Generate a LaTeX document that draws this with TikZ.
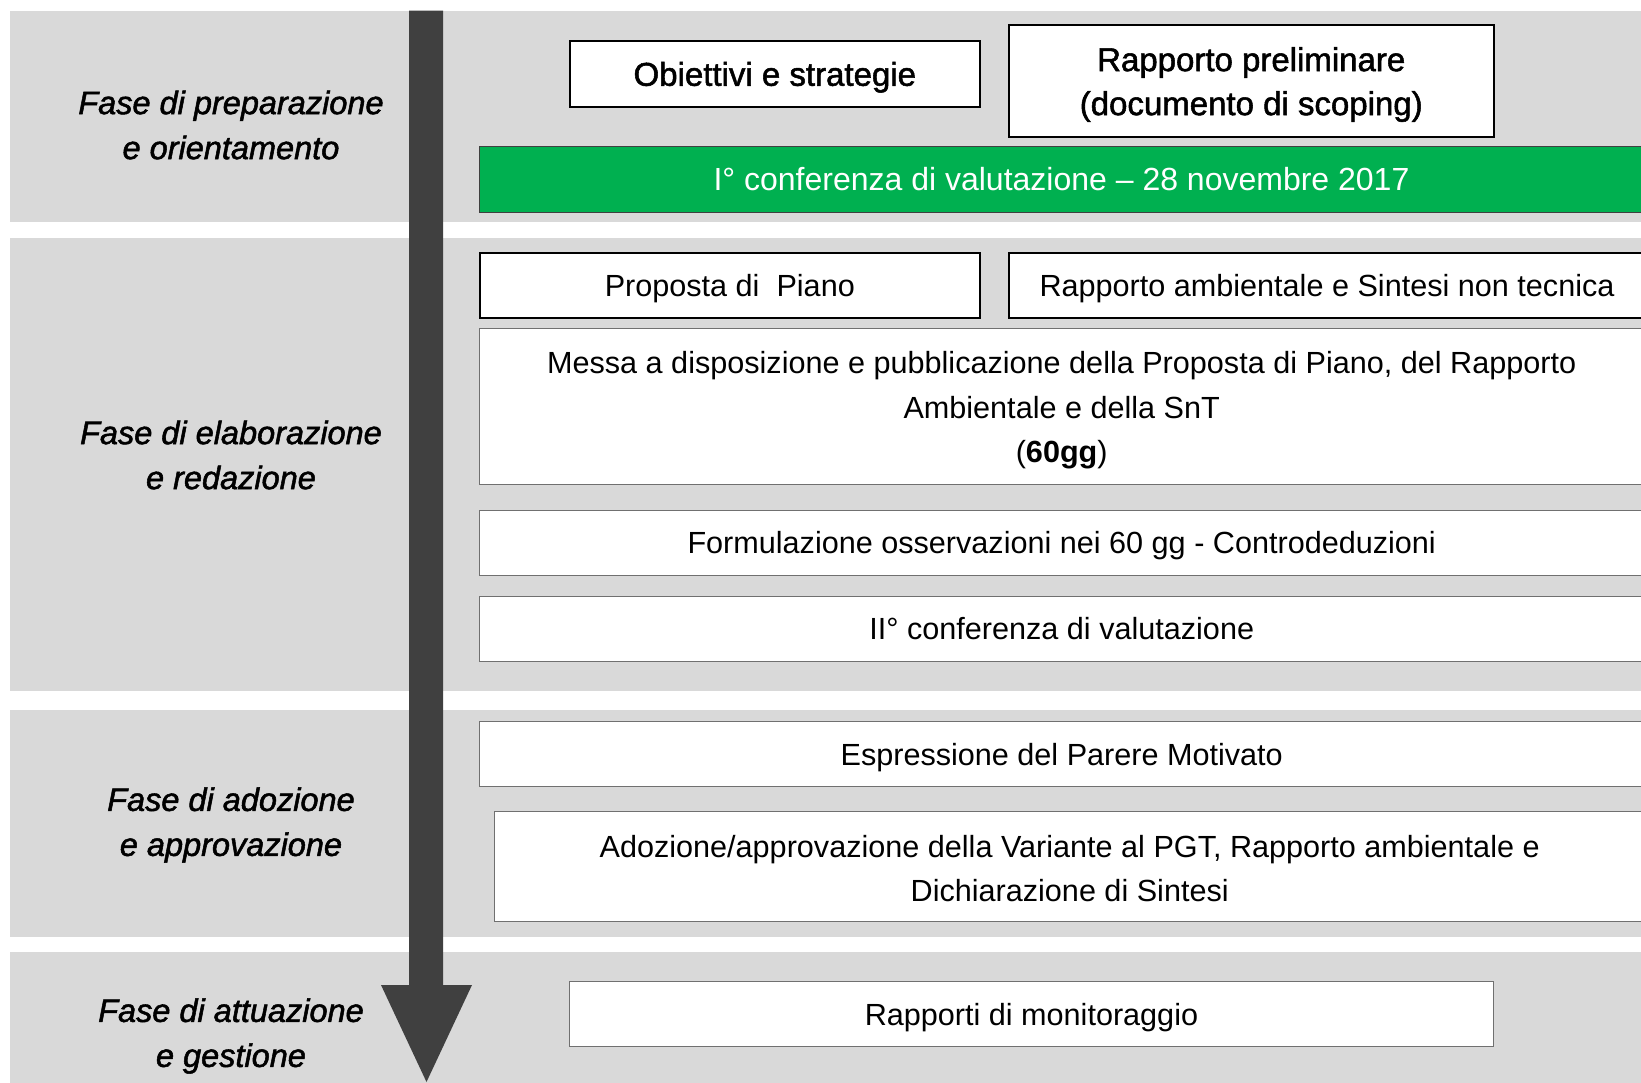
\documentclass[tikz,border=0pt]{standalone}
\usepackage{fontspec}
\setmainfont{Liberation Sans}
\newfontfamily\heavyfont[FakeBold=1.6]{Liberation Sans}
\definecolor{bandgray}{HTML}{D9D9D9}
\definecolor{arrowgray}{HTML}{404040}
\definecolor{confgreen}{HTML}{00B050}
\definecolor{boxgray}{HTML}{707070}
\begin{document}
\begin{tikzpicture}[x=1pt,y=-1pt,
  band/.style={fill=bandgray,draw=none},
  struts/.style={execute at begin node={\rule{0pt}{0.92em}},execute at end node={\rule[-0.2em]{0pt}{0pt}}},
  blackbox/.style={struts,draw=black,line width=2pt,fill=white,inner sep=0pt,align=center,anchor=north west,font=\heavyfont\fontsize{33}{44}\selectfont},
  graybox/.style={struts,draw=boxgray,line width=1.4pt,fill=white,inner sep=0pt,align=center,anchor=north west,font=\fontsize{30.6}{44.5}\selectfont},
  greenbox/.style={struts,draw=black!75,line width=1pt,fill=confgreen,text=white,inner sep=0pt,align=center,anchor=north west,font=\fontsize{32}{44}\selectfont},
  boxtext/.style={struts,inner sep=0pt,align=center,font=\fontsize{30.6}{44.5}\selectfont},
  phase/.style={align=center,inner sep=0pt,font=\heavyfont\itshape\fontsize{32.5}{45}\selectfont},
]
\fill[white] (0,0) rectangle (1641,1082);
\useasboundingbox (0,0) rectangle (1641,1082);

% bands
\fill[band] (10,10.5) rectangle (1645,222);
\fill[band] (10,237.5) rectangle (1645,690.8);
\fill[band] (10,710) rectangle (1645,936.7);
\fill[band] (10,951.7) rectangle (1645,1085);

% timeline arrow
\fill[arrowgray] (409,10.5) -- (443,10.5) -- (443,985) -- (472,985) -- (426.5,1082) -- (381,985) -- (409,985) -- cycle;

% phase labels
\node[phase] (p1) at (231,125) {Fase di preparazione\\e orientamento};
\node[phase] (p2) at (231,455) {Fase di elaborazione\\e redazione};
\node[phase] (p3) at (231,825) {Fase di adozione\\e approvazione};
\node[phase] (p4) at (231,1036) {Fase di attuazione\\e gestione};

% phase 1
\node[blackbox,minimum width=409.6pt,minimum height=66pt] (obi) at (569,40) {Obiettivi e strategie};
\node[blackbox,minimum width=484.5pt,minimum height=111.5pt] (rprel) at (1008,24) {};
\node[boxtext,font=\heavyfont\fontsize{33}{44}\selectfont] (rpreltxt) at ([yshift=-3.8pt]rprel.center) {Rapporto preliminare\\(documento di scoping)};
\node[greenbox,minimum width=1164pt,minimum height=65.5pt] (conf1) at (479,146) {I° conferenza di valutazione – 28 novembre 2017};

% phase 2
\node[blackbox,font=\normalfont\fontsize{30.6}{44.5}\selectfont,minimum width=499.6pt,minimum height=65.5pt] (prop) at (479,251.5) {Proposta di\ \ Piano};
\node[blackbox,font=\normalfont\fontsize{30.6}{44.5}\selectfont,minimum width=636pt,minimum height=65.5pt] (ramb) at (1008,251.5) {Rapporto ambientale e Sintesi non tecnica};
\node[graybox,minimum width=1164pt,minimum height=156pt] (messa) at (479,327.5) {};
\node[boxtext] (messatxt) at ([yshift=-4.2pt]messa.center) {Messa a disposizione e pubblicazione della Proposta di Piano, del Rapporto\\Ambientale e della SnT\\(\textbf{60gg})};
\node[graybox,minimum width=1164pt,minimum height=65pt] (form) at (479,509.7) {Formulazione osservazioni nei 60 gg - Controdeduzioni};
\node[graybox,minimum width=1164pt,minimum height=65pt] (conf2) at (479,595.5) {II° conferenza di valutazione};

% phase 3
\node[graybox,minimum width=1164pt,minimum height=65pt] (parere) at (479,721) {Espressione del Parere Motivato};
\node[graybox,minimum width=1150pt,minimum height=110pt] (adoz) at (494,811) {};
\node[boxtext] (adoztxt) at ([yshift=-4.7pt]adoz.center) {Adozione/approvazione della Variante al PGT, Rapporto ambientale e\\Dichiarazione di Sintesi};

% phase 4
\node[graybox,minimum width=923.5pt,minimum height=65pt] (monit) at (569,981) {Rapporti di monitoraggio};
\end{tikzpicture}
\end{document}
